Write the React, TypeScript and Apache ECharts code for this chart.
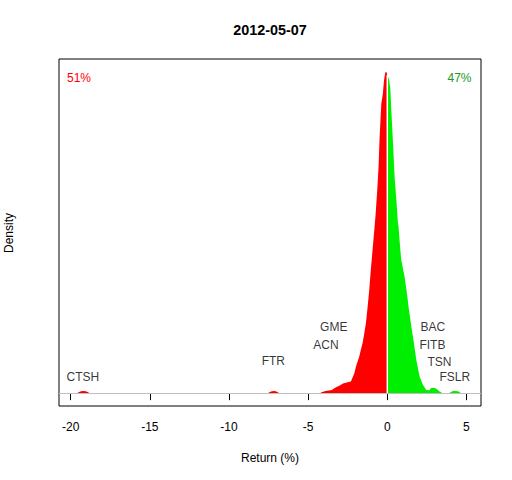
import React, { useEffect, useRef } from "react";
import * as echarts from "echarts";

// Kernel density of returns (relative density, peak = 1)
const redX = [-20.74, -19.6, -19.5, -19.35, -19.2, -19.05, -18.9, -18.8, -7.55, -7.45, -7.3, -7.15, -7.0, -6.9, -6.8,
  -4.25, -4.15, -3.9, -3.5, -3.3, -3.0, -2.8, -2.5, -2.3, -2.08, -1.98, -1.88, -1.77, -1.67, -1.56, -1.45, -1.35,
  -1.24, -1.14, -1.04, -0.93, -0.82, -0.74, -0.63, -0.55, -0.49, -0.38, -0.28, -0.21, -0.13, -0.06, 0];
const redY = [0, 0, 0.003, 0.006, 0.007, 0.006, 0.003, 0, 0, 0.003, 0.006, 0.007, 0.005, 0.002, 0,
  0, 0.0025, 0.007, 0.010, 0.0165, 0.024, 0.030, 0.034, 0.036, 0.062, 0.083, 0.098, 0.114, 0.135, 0.156, 0.187, 0.218,
  0.270, 0.321, 0.384, 0.446, 0.508, 0.555, 0.636, 0.707, 0.791, 0.900, 0.932, 0.972, 0.998, 1.0, 0.99];

const greenX = [0, 0.02, 0.10, 0.19, 0.25, 0.36, 0.46, 0.57, 0.67, 0.71, 0.80, 0.88, 1.09, 1.24, 1.37, 1.52, 1.68,
  1.83, 2.04, 2.25, 2.46, 2.65, 2.78, 2.95, 3.1, 3.3, 3.5, 3.9, 4.0, 4.15, 4.35, 4.55, 4.65, 5.92];
const greenY = [0.99, 0.988, 0.978, 0.950, 0.885, 0.779, 0.674, 0.603, 0.530, 0.519, 0.46, 0.415, 0.363, 0.311, 0.259,
  0.207, 0.156, 0.104, 0.052, 0.026, 0.010, 0.009, 0.016, 0.017, 0.014, 0.005, 0, 0, 0.003, 0.007, 0.007, 0.004, 0, 0];

const tickerNames = ["CTSH", "FTR", "GME", "ACN", "BAC", "FITB", "TSN", "FSLR"];
const tickerX = [-19.23, -7.2, -3.38, -3.87, 2.88, 2.85, 3.3, 4.27];
const tickerY = [0.049, 0.099, 0.205, 0.151, 0.205, 0.151, 0.098, 0.049];

const xTicks = [-20, -15, -10, -5, 0, 5];
const xMin = -20.74;
const xMax = 5.92;
const yMin = -0.04;
const yMax = 1.04;

const titleText = "2012-05-07";
const xName = "Return (%)";
const yName = "Density";
const downShare = "51%";
const upShare = "47%";

const FONT = "'Liberation Sans', Arial, sans-serif";

export default function App() {
  const ref = useRef<HTMLDivElement>(null);
  useEffect(() => {
    if (!ref.current) return;
    const chart = echarts.init(ref.current, undefined, { renderer: "svg" });
    chart.setOption({
      animation: false,
      backgroundColor: "#ffffff",
      grid: {
        left: 59,
        top: 59,
        width: 422,
        height: 347,
        show: true,
        borderColor: "#000000",
        borderWidth: 1,
        backgroundColor: "transparent",
      },
      xAxis: {
        type: "value",
        min: xMin,
        max: xMax,
        axisLine: { show: false },
        splitLine: { show: false },
        axisTick: {
          show: true,
          length: 7,
          inside: false,
          customValues: xTicks,
          lineStyle: { color: "#000000", width: 1 },
        },
        axisLabel: {
          show: true,
          customValues: xTicks,
          margin: 15,
          color: "#000000",
          fontSize: 12,
          fontFamily: FONT,
        },
      },
      yAxis: {
        type: "value",
        min: yMin,
        max: yMax,
        axisLine: { show: false },
        axisTick: { show: false },
        axisLabel: { show: false },
        splitLine: { show: false },
      },
      series: [
        {
          type: "line",
          data: [],
          z: 1,
          markLine: {
            silent: true,
            symbol: ["none", "none"],
            label: { show: false },
            lineStyle: { color: "#BEBEBE", width: 1, type: "solid" },
            data: [{ yAxis: 0 }],
          },
        },
        {
          type: "line",
          data: redX.map((x, i) => [x, redY[i]]),
          showSymbol: false,
          symbol: "none",
          color: "#FF0000",
          lineStyle: { width: 0 },
          areaStyle: { color: "#FF0000", opacity: 1 },
          z: 2,
          silent: true,
        },
        {
          type: "line",
          data: greenX.map((x, i) => [x, greenY[i]]),
          showSymbol: false,
          symbol: "none",
          color: "#00EE00",
          lineStyle: { width: 0 },
          areaStyle: { color: "#00EE00", opacity: 1 },
          z: 2,
          silent: true,
        },
        {
          type: "line",
          data: [
            [0, 0],
            [0, greenY[0]],
          ],
          showSymbol: false,
          symbol: "none",
          lineStyle: { color: "#FFFFFF", width: 1.5 },
          z: 3,
          silent: true,
        },
        {
          type: "scatter",
          symbolSize: 0,
          z: 5,
          silent: true,
          itemStyle: { color: "#000000" },
          data: tickerX.map((x, i) => ({ value: [x, tickerY[i]], name: tickerNames[i] })),
          label: {
            show: true,
            position: [0, 0],
            align: "center",
            verticalAlign: "middle",
            formatter: "{b}",
            color: "#000000",
            textBorderWidth: 0,
            fontSize: 12,
            fontFamily: FONT,
          },
        },
      ],
      graphic: [
        {
          type: "text",
          x: 270,
          y: 30,
          style: {
            text: titleText,
            font: `bold 14.4px ${FONT}`,
            fill: "#000000",
            align: "center",
            verticalAlign: "middle",
          },
        },
        {
          type: "text",
          x: 270,
          y: 458,
          style: {
            text: xName,
            font: `12px ${FONT}`,
            fill: "#000000",
            align: "center",
            verticalAlign: "middle",
          },
        },
        {
          type: "text",
          x: 8.5,
          y: 233,
          rotation: Math.PI / 2,
          style: {
            text: yName,
            font: `12px ${FONT}`,
            fill: "#000000",
            align: "center",
            verticalAlign: "middle",
          },
        },
        {
          type: "text",
          x: 67,
          y: 78,
          style: {
            text: downShare,
            font: `12px ${FONT}`,
            fill: "#FF0000",
            align: "left",
            verticalAlign: "middle",
          },
        },
        {
          type: "text",
          x: 471.5,
          y: 78,
          style: {
            text: upShare,
            font: `12px ${FONT}`,
            fill: "#229922",
            align: "right",
            verticalAlign: "middle",
          },
        },
      ],
    });
    return () => chart.dispose();
  }, []);
  return (
    <div
      ref={ref}
      style={{ position: "fixed", left: 0, top: 0, width: 512, height: 480 }}
    />
  );
}
